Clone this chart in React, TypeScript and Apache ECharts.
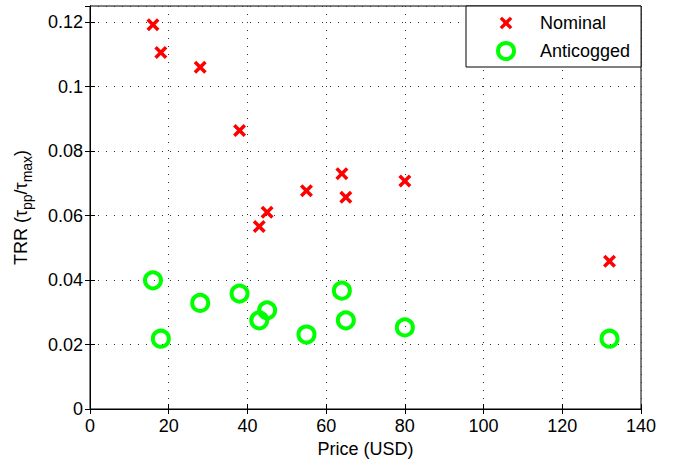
import React, { useEffect, useRef } from "react";
import * as echarts from "echarts";

const prices = [16, 18, 28, 38, 43, 45, 55, 64, 65, 80, 132];
const nominal = [0.1192, 0.1106, 0.106, 0.0864, 0.0566, 0.061, 0.0677, 0.073, 0.0657, 0.0707, 0.0458];
const anticogged = [0.0399, 0.0218, 0.0329, 0.0358, 0.0275, 0.0306, 0.0231, 0.0367, 0.0275, 0.0253, 0.0218];
const seriesNames = ["Nominal", "Anticogged"];

const FONT = "'Liberation Sans', Arial, Helvetica, sans-serif";
const X_SHAPE = "M0,1.9L1.9,0L5,3.1L8.1,0L10,1.9L6.9,5L10,8.1L8.1,10L5,6.9L1.9,10L0,8.1L3.1,5Z";
const X_PATH = "path://" + X_SHAPE;
const X_LEGEND = "path://M-1.3,-1.3L-1.29,-1.3L-1.3,-1.29Z M11.3,11.3L11.29,11.3L11.3,11.29Z " + X_SHAPE;

export default function App() {
  const ref = useRef<HTMLDivElement>(null);
  useEffect(() => {
    if (!ref.current) return;
    const chart = echarts.init(ref.current, undefined, { renderer: "svg" });
    const tickStyle = { show: true, inside: true, length: 5, lineStyle: { color: "#000", width: 1 } };
    const gridLine = { show: true, lineStyle: { color: "#333", width: 1, type: [1, 7] as any } };
    chart.setOption({
      animation: false,
      backgroundColor: "#fff",
      textStyle: { fontFamily: FONT },
      grid: {
        left: 90, right: 32, top: 6, bottom: 51,
        outerBoundsMode: "none",
        containLabel: false,
        show: true, borderColor: "#000", borderWidth: 1, backgroundColor: "transparent",
      },
      legend: {
        left: 466,
        top: 6,
        orient: "vertical",
        padding: [8, 11, 6, 30],
        itemGap: 9,
        itemWidth: 58,
        itemHeight: 16,
        selectedMode: false,
        backgroundColor: "#fff",
        borderColor: "#000",
        borderWidth: 1,
        borderRadius: 0,
        textStyle: { fontFamily: FONT, fontSize: 18, color: "#000", lineHeight: 18 },
        data: [
          { name: seriesNames[0], icon: X_LEGEND, itemStyle: { color: "#ff0000", borderWidth: 0 } },
          { name: seriesNames[1], icon: "circle", itemStyle: { color: "rgba(0,0,0,0)", borderColor: "#00ff00", borderWidth: 4 } },
        ],
      },
      xAxis: [
        {
          type: "value",
          min: 0,
          max: 140,
          interval: 20,
          name: "Price (USD)",
          nameLocation: "middle",
          nameGap: 28,
          nameTextStyle: { fontFamily: FONT, fontSize: 18, color: "#000" },
          axisLine: { show: true, lineStyle: { color: "#000" } },
          axisTick: tickStyle,
          axisLabel: { color: "#000", fontSize: 18, fontFamily: FONT, margin: 8 },
          splitLine: gridLine,
        },
        {
          type: "value",
          position: "top",
          min: 0,
          max: 140,
          interval: 20,
          axisLine: { show: true, lineStyle: { color: "#000" } },
          axisTick: tickStyle,
          axisLabel: { show: false },
          splitLine: { show: false },
        },
      ],
      yAxis: [
        {
          type: "value",
          min: 0,
          max: 0.125,
          interval: 0.02,
          name: "{a|TRR (τ}{s|pp}{a|/τ}{s|max}{a|)}",
          nameLocation: "middle",
          nameRotate: 90,
          nameGap: 48,
          nameTextStyle: {
            fontFamily: FONT,
            color: "#000",
            rich: {
              a: { fontFamily: FONT, fontSize: 18, lineHeight: 18, color: "#000", verticalAlign: "top" },
              s: { fontFamily: FONT, fontSize: 14, lineHeight: 30, color: "#000", verticalAlign: "middle" },
            },
          },
          axisLine: { show: true, lineStyle: { color: "#000" } },
          axisTick: tickStyle,
          axisLabel: { color: "#000", fontSize: 18, fontFamily: FONT, margin: 7, showMaxLabel: false },
          splitLine: gridLine,
        },
        {
          type: "value",
          position: "right",
          min: 0,
          max: 0.125,
          interval: 0.02,
          axisLine: { show: true, lineStyle: { color: "#000" } },
          axisTick: tickStyle,
          axisLabel: { show: false },
          splitLine: { show: false },
        },
      ],
      series: [
        {
          name: seriesNames[0],
          type: "scatter",
          symbol: X_PATH,
          symbolSize: 13,
          itemStyle: { color: "#ff0000", opacity: 1 },
          data: prices.map((p, i) => [p, nominal[i]]),
          z: 3,
        },
        {
          name: seriesNames[1],
          type: "scatter",
          symbol: "circle",
          symbolSize: 16,
          itemStyle: { color: "rgba(0,0,0,0)", borderColor: "#00ff00", borderWidth: 4, opacity: 1 },
          data: prices.map((p, i) => [p, anticogged[i]]),
          z: 4,
        },
      ],
    });
    return () => chart.dispose();
  }, []);
  return (
    <div
      ref={ref}
      style={{ position: "fixed", left: 0, top: 0, width: 673, height: 460, background: "#fff" }}
    />
  );
}
